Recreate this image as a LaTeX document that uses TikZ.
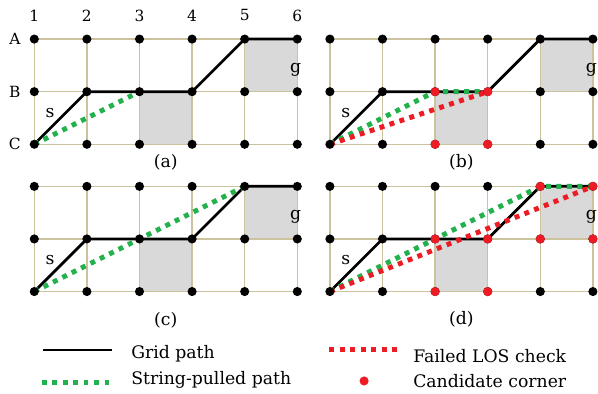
\documentclass[tikz,border=0pt]{standalone}
\usepackage{fontspec}
\setmainfont{DejaVu Serif}
\usetikzlibrary{positioning}
\definecolor{sand}{RGB}{204,194,158}
\definecolor{shade}{RGB}{217,217,217}
\definecolor{pullgreen}{RGB}{34,177,76}
\definecolor{losred}{RGB}{237,28,36}
\pgfdeclarelayer{bg}
\pgfdeclarelayer{paths}
\pgfsetlayers{bg,paths,main}
\tikzset{
  gridline/.style={draw=sand,line width=1pt},
  blocked/.style={fill=shade},
  dot/.style={circle,fill=black,inner sep=0pt,minimum size=2.6mm},
  corner/.style={circle,fill=losred,inner sep=0pt,minimum size=2.6mm},
  gridpath/.style={draw=black,line width=2.2pt},
  pulled/.style={draw=pullgreen,line width=4pt,dash pattern=on 4pt off 4.5pt},
  failed/.style={draw=losred,line width=4pt,dash pattern=on 4pt off 4.5pt},
  lbl/.style={font=\fontsize{14}{16}\selectfont,inner sep=1pt},
  axis/.style={font=\fontsize{12.5}{14}\selectfont,inner sep=1pt},
  key/.style={font=\fontsize{14}{16}\selectfont,anchor=base west,inner sep=0pt},
}

\begin{document}
\begin{tikzpicture}[x=1.5cm,y=1.5cm]
  \useasboundingbox (-0.652,-4.747) rectangle (10.717,2.743);
  % column and row names
  \foreach \c in {1,...,6}
    \node[axis] (col\c) at (\c-1,2.45) {\c};
  \foreach \r/\y in {A/2,B/1,C/0}
    \node[axis] (row\r) at (-0.37,\y) {\r};
  % the four grids
  \foreach \p/\dx/\dy/\cy in {a/0/0/-0.34,b/5.62/0/-0.34,c/0/-2.8/-0.55,d/5.62/-2.8/-0.52}{
    \begin{scope}[shift={(\dx,\dy)}]
      \begin{pgfonlayer}{bg}
        \fill[blocked] (2,0) rectangle (3,1);
        \fill[blocked] (4,1) rectangle (5,2);
        \draw[gridline,step={(1,1)}] (0,0) grid (5,2);
      \end{pgfonlayer}
      \foreach \r/\y in {A/2,B/1,C/0}
        \foreach \c in {1,...,6}
          \node[dot] (\p\r\c) at (\c-1,\y) {};
      \node[lbl] (\p s) at (0.3,0.59) {s};
      \node[lbl] (\p g) at (4.97,1.42) {g};
      \node[lbl] (\p cap) at (2.5,\cy) {(\p)};
    \end{scope}
    \begin{pgfonlayer}{paths}
      \draw[gridpath] (\p C1.center) -- (\p B2.center) -- (\p B4.center)
        -- (\p A5.center) -- (\p A6.center);
    \end{pgfonlayer}
  }
  \begin{pgfonlayer}{paths}
    \draw[pulled] (aC1.center) -- (aB3.center);
    \draw[pulled] (bC1.center) -- (bB3.center) -- (bB4.center);
    \draw[pulled] (cC1.center) -- (cA5.center);
    \draw[pulled] (dC1.center) -- (dB3.center) -- (dA5.center) -- (dA6.center);
    \draw[failed] (bC1.center) -- (bB4.center);
    \draw[failed] (dC1.center) -- (dA6.center);
  \end{pgfonlayer}
  \foreach \n in {bB3,bB4,bC3,bC4,dB3,dB4,dC3,dC4,dA5,dA6,dB5,dB6}
    \node[corner] (\n red) at (\n) {};
  % legend
  \coordinate (k1) at (0.17,-3.91);
  \coordinate (k2) at (1.47,-3.91);
  \coordinate (k3) at (0.14,-4.53);
  \coordinate (k4) at (1.44,-4.53);
  \coordinate (k5) at (5.61,-3.91);
  \coordinate (k6) at (6.93,-3.91);
  \draw[gridpath] (k1) -- (k2);
  \draw[pulled] (k3) -- (k4);
  \draw[failed] (k5) -- (k6);
  \node[corner] (kdot) at (6.27,-4.50) {};
  \node[key] (tgrid) at (1.84,-4.08) {Grid path};
  \node[key] (tpull) at (1.84,-4.57) {String-pulled path};
  \node[key] (tlos) at (7.2,-4.14) {Failed LOS check};
  \node[key] (tcand) at (7.2,-4.62) {Candidate corner};
\end{tikzpicture}
\end{document}
